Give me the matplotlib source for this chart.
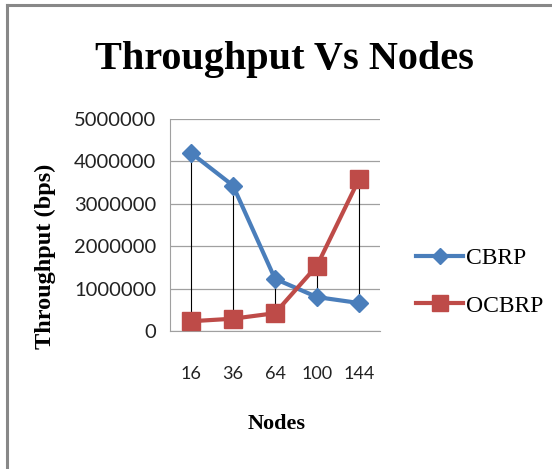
import matplotlib
matplotlib.use("Agg")
import matplotlib.pyplot as plt
from matplotlib.lines import Line2D
import numpy as np

categories = ["16", "36", "64", "100", "144"]
cbrp = [4200000, 3430000, 1230000, 800000, 660000]
ocbrp = [230000, 290000, 420000, 1540000, 3580000]
yticks = [0, 1000000, 2000000, 3000000, 4000000, 5000000]

W, H = 552, 469
fig = plt.figure(figsize=(W / 100, H / 100), dpi=100)
# axes in pixel coords: left 170, right 380, top 119, bottom 331
ax = fig.add_axes([170 / W, 1 - 331 / H, 210 / W, 212 / H])

x = np.arange(len(categories))
blue = "#4a7ebb"
red = "#be4b48"

# high-low lines
for xi, a, b in zip(x, cbrp, ocbrp):
    ax.plot([xi, xi], [min(a, b), max(a, b)], color="black", lw=0.8, zorder=2)

ax.plot(x, cbrp, color=blue, lw=3, marker="D", ms=9, label="CBRP", zorder=3)
ax.plot(x, ocbrp, color=red, lw=3, marker="s", ms=12.5, label="OCBRP", zorder=3)

ax.set_xlim(-0.5, len(categories) - 0.5)
ax.set_ylim(0, 5000000)
ax.set_yticks(yticks)
ax.set_yticklabels([str(v) for v in yticks], fontfamily="Lato", fontsize=14.5, color="#222222")
ax.set_xticks(x)
ax.set_xticklabels(categories, fontfamily="Lato", fontsize=13, color="#222222")
ax.tick_params(axis="both", length=0)
ax.tick_params(axis="x", pad=25)
ax.tick_params(axis="y", pad=10)
ax.grid(axis="y", color="#a0a0a0", lw=0.9)
ax.set_axisbelow(True)
for s in ["top", "right"]:
    ax.spines[s].set_visible(False)
ax.spines["left"].set_color("#a0a0a0")
ax.spines["bottom"].set_color("#a0a0a0")

fig.text(284 / W, 1 - 59 / H, "Throughput Vs Nodes", ha="center", va="center",
         fontfamily="Liberation Serif", fontweight="bold", fontsize=29)
fig.text(45 / W, 1 - 256 / H, "Throughput (bps)", ha="center", va="center", rotation=90,
         fontfamily="Liberation Serif", fontweight="bold", fontsize=17.5)
fig.text(277 / W, 1 - 424 / H, "Nodes", ha="center", va="center",
         fontfamily="Liberation Serif", fontweight="bold", fontsize=16)

# legend
leg = fig.legend(handles=[
    Line2D([], [], color=blue, lw=3, marker="D", ms=8, label="CBRP"),
    Line2D([], [], color=red, lw=3, marker="s", ms=11, label="OCBRP")],
    loc="center left", bbox_to_anchor=(395 / W, 1 - 282 / H), frameon=False,
    prop={"family": "Liberation Serif", "size": 17}, handlelength=2.0,
    handletextpad=0.1, labelspacing=1.1)

# frame lines (left and top)
fig.add_artist(Line2D([7 / W, 7 / W], [0, 1 - 5.5 / H], color="#888888", lw=2.2, transform=fig.transFigure))
fig.add_artist(Line2D([7 / W, 1], [1 - 5.5 / H, 1 - 5.5 / H], color="#888888", lw=2.2, transform=fig.transFigure))

fig.savefig("out.png", dpi=100)
